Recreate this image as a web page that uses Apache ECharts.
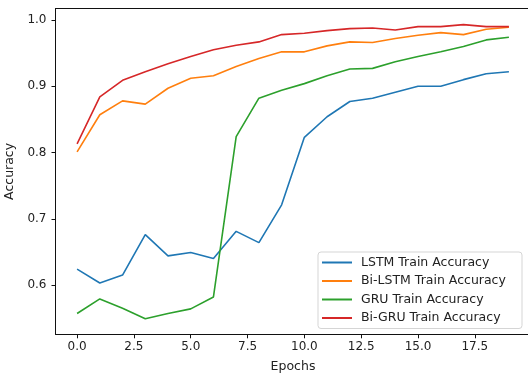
<!DOCTYPE html>
<html>
<head>
<meta charset="utf-8">
<script src="https://cdn.jsdelivr.net/npm/echarts@6/dist/echarts.min.js"></script>
<style>
html,body{margin:0;padding:0;background:#fff;}
#chart{width:528px;height:374px;}
</style>
</head>
<body>
<div id="chart"></div>
<script>
const epochs = [0,1,2,3,4,5,6,7,8,9,10,11,12,13,14,15,16,17,18,19];
const lstm   = [0.624,0.603,0.615,0.676,0.644,0.649,0.640,0.681,0.664,0.721,0.823,0.854,0.877,0.882,0.891,0.900,0.900,0.910,0.919,0.922];
const biLstm = [0.801,0.857,0.878,0.873,0.897,0.912,0.916,0.930,0.942,0.952,0.952,0.961,0.967,0.966,0.972,0.977,0.981,0.978,0.986,0.989];
const gru    = [0.557,0.579,0.565,0.549,0.557,0.564,0.582,0.824,0.882,0.894,0.904,0.916,0.926,0.927,0.937,0.945,0.952,0.960,0.970,0.974];
const biGru  = [0.813,0.884,0.909,0.922,0.934,0.945,0.955,0.962,0.967,0.978,0.980,0.984,0.987,0.988,0.985,0.990,0.990,0.993,0.990,0.990];
const xTicks = [0,2.5,5,7.5,10,12.5,15,17.5];
const yTicks = [0.6,0.7,0.8,0.9,1.0];
const names = ['LSTM Train Accuracy','Bi-LSTM Train Accuracy','GRU Train Accuracy','Bi-GRU Train Accuracy'];
const colors = ['#1f77b4','#ff7f0e','#2ca02c','#d62728'];
const seriesData = [lstm, biLstm, gru, biGru];

const font = 'DejaVu Sans';
const chart = echarts.init(document.getElementById('chart'), null, {renderer:'canvas'});
chart.setOption({
  animation:false,
  backgroundColor:'#fff',
  color: colors,
  grid:{left:55.5, top:8.5, width:475, height:325.8, show:false, outerBoundsMode:'none', containLabel:false},
  xAxis:[{
    type:'value', min:-0.95, max:19.95,
    name:'Epochs', nameLocation:'middle', nameGap:26,
    nameTextStyle:{fontFamily:font, fontSize:12.5, color:'#222'},
    axisLine:{show:true, onZero:false, lineStyle:{color:'#111', width:1}},
    axisTick:{show:true, length:4, customValues:xTicks, lineStyle:{color:'#111'}},
    axisLabel:{customValues:xTicks, margin:7, fontFamily:font, fontSize:12, color:'#222', formatter:v=>v.toFixed(1)},
    splitLine:{show:false}
  },{
    type:'value', position:'top', min:-0.95, max:19.95,
    axisLine:{show:true, onZero:false, lineStyle:{color:'#111', width:1}},
    axisTick:{show:false}, axisLabel:{show:false}, splitLine:{show:false}
  }],
  yAxis:{
    type:'value', min:0.5256, max:1.0174,
    name:'Accuracy', nameLocation:'middle', nameGap:37,
    nameTextStyle:{fontFamily:font, fontSize:12.5, color:'#222'},
    axisLine:{show:true, onZero:false, lineStyle:{color:'#111', width:1}},
    axisTick:{show:true, length:4, customValues:yTicks, lineStyle:{color:'#111'}},
    axisLabel:{customValues:yTicks, margin:9, fontFamily:font, fontSize:12, color:'#222', formatter:v=>v.toFixed(1)},
    splitLine:{show:false}
  },
  legend:{
    orient:'vertical', left:318, top:252,
    padding:[3,4,3,4],
    itemWidth:30, itemHeight:2, itemGap:3.5,
    icon:'rect',
    borderColor:'#d5d5d5', borderWidth:1, borderRadius:3,
    backgroundColor:'rgba(255,255,255,0.8)',
    textStyle:{fontFamily:font, fontSize:12.5, color:'#222', lineHeight:15, width:157, overflow:'none', padding:[0,0,0,4]},
    data:names
  },
  series: seriesData.map((d,k)=>({
    name:names[k], type:'line', showSymbol:false, symbol:'none',
    xAxisIndex:0,
    data: epochs.map((e,i)=>[e,d[i]]),
    lineStyle:{width:1.6, color:colors[k]},
    itemStyle:{color:colors[k]}
  }))
});
</script>
</body>
</html>
